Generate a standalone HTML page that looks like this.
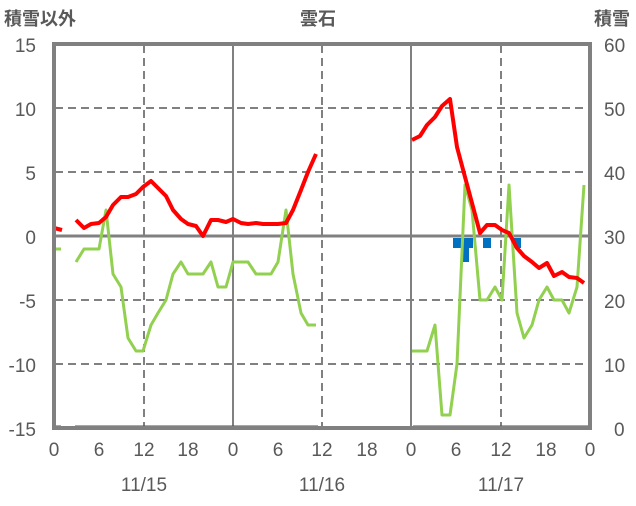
<!DOCTYPE html>
<html><head><meta charset="utf-8"><style>
html,body{margin:0;padding:0;background:#fff;}
svg text{font-family:"Liberation Sans","Noto Sans CJK JP",sans-serif;fill:#595959;}
</style></head><body>
<svg width="636" height="501" viewBox="0 0 636 501" xmlns="http://www.w3.org/2000/svg">
<rect width="636" height="501" fill="#fff"/>
<g stroke="#808080" stroke-width="2" stroke-dasharray="8,5">
<line x1="55" y1="108" x2="589" y2="108"/>
<line x1="55" y1="172" x2="589" y2="172"/>
<line x1="55" y1="300" x2="589" y2="300"/>
<line x1="55" y1="364" x2="589" y2="364"/>
<line x1="144" y1="45" x2="144" y2="427"/>
<line x1="322" y1="45" x2="322" y2="427"/>
<line x1="501" y1="45" x2="501" y2="427"/>
</g>
<g stroke="#808080" stroke-width="2">
<line x1="233" y1="45" x2="233" y2="427"/>
<line x1="411" y1="45" x2="411" y2="427"/>
</g>
<line x1="55" y1="236" x2="589" y2="236" stroke="#808080" stroke-width="3"/>
<g fill="#0070C0">
<rect x="453" y="238" width="20" height="10"/>
<rect x="463" y="238" width="6" height="24"/>
<rect x="483" y="238" width="8" height="10"/>
<rect x="514" y="238" width="7" height="10"/>
</g>
<g fill="none" stroke-linejoin="round">
<polyline stroke="#92D050" stroke-width="3" points="54,249 61,249"/>
<polyline stroke="#92D050" stroke-width="3" points="76,262 84,249 91,249 99,249 106,210 113,274 121,287 128,338 136,351 143,351 151,325 158,313 166,300 173,274 181,262 188,274 196,274 203,274 211,262 218,287 226,287 233,262 241,262 248,262 256,274 263,274 271,274 278,262 286,210 293,274 301,313 308,325 316,325"/>
<polyline stroke="#92D050" stroke-width="3" points="412,351 420,351 427,351 435,325 442,415 450,415 457,364 465,185 472,210 480,300 487,300 495,287 502,300 509,185 517,313 524,338 532,325 539,300 547,287 554,300 562,300 569,313 577,287 584,185"/>
<polyline stroke="#FF0000" stroke-width="4" points="54,228 62,230"/>
<polyline stroke="#FF0000" stroke-width="4" points="76,220 84,228 91,224 99,223 106,217 113,205 121,197 128,197 136,194 143,187 151,181 158,188 166,196 173,210 181,219 188,224 196,226 203,236 211,220 218,220 226,222 233,219 241,223 248,224 256,223 263,224 271,224 278,224 286,223 293,210 301,190 308,172 316,154"/>
<polyline stroke="#FF0000" stroke-width="4" points="412,140 420,136 427,125 435,117 442,106 450,99 457,147 465,177 472,203 480,233 487,225 495,225 502,230 509,233 517,248 524,256 532,262 539,268 547,263 554,276 562,272 569,277 577,278 584,283"/>
</g>
<g stroke="#7030A0" stroke-width="3">
<line x1="54" y1="427" x2="61" y2="427"/>
<line x1="75" y1="427" x2="318" y2="427"/>
<line x1="413" y1="427" x2="588" y2="427"/>
</g>
<rect x="54" y="44" width="536" height="384" fill="none" stroke="#808080" stroke-width="4"/>
<g font-size="19" text-anchor="end">
<text x="36" y="52">15</text>
<text x="36" y="116">10</text>
<text x="36" y="180">5</text>
<text x="36" y="244">0</text>
<text x="36" y="308">-5</text>
<text x="36" y="372">-10</text>
<text x="36" y="436">-15</text>
</g>
<g font-size="19" text-anchor="start">
<text x="604" y="52">60</text>
<text x="604" y="116">50</text>
<text x="604" y="180">40</text>
<text x="604" y="244">30</text>
<text x="604" y="308">20</text>
<text x="604" y="372">10</text>
<text x="614" y="436">0</text>
</g>
<g font-size="19" text-anchor="middle">
<text x="54" y="456">0</text><text x="99" y="456">6</text><text x="144" y="456">12</text><text x="188" y="456">18</text>
<text x="233" y="456">0</text><text x="278" y="456">6</text><text x="322" y="456">12</text><text x="367" y="456">18</text>
<text x="411" y="456">0</text><text x="456" y="456">6</text><text x="501" y="456">12</text><text x="546" y="456">18</text>
<text x="590" y="456">0</text>
<text x="144" y="491">11/15</text><text x="322" y="491">11/16</text><text x="501" y="491">11/17</text>
</g>
<text x="4" y="25" font-size="18" font-weight="bold">積雪以外</text>
<text x="318" y="25" font-size="18" font-weight="bold" text-anchor="middle">雲石</text>
<text x="630" y="25" font-size="18" font-weight="bold" text-anchor="end">積雪</text>
</svg>
</body></html>
